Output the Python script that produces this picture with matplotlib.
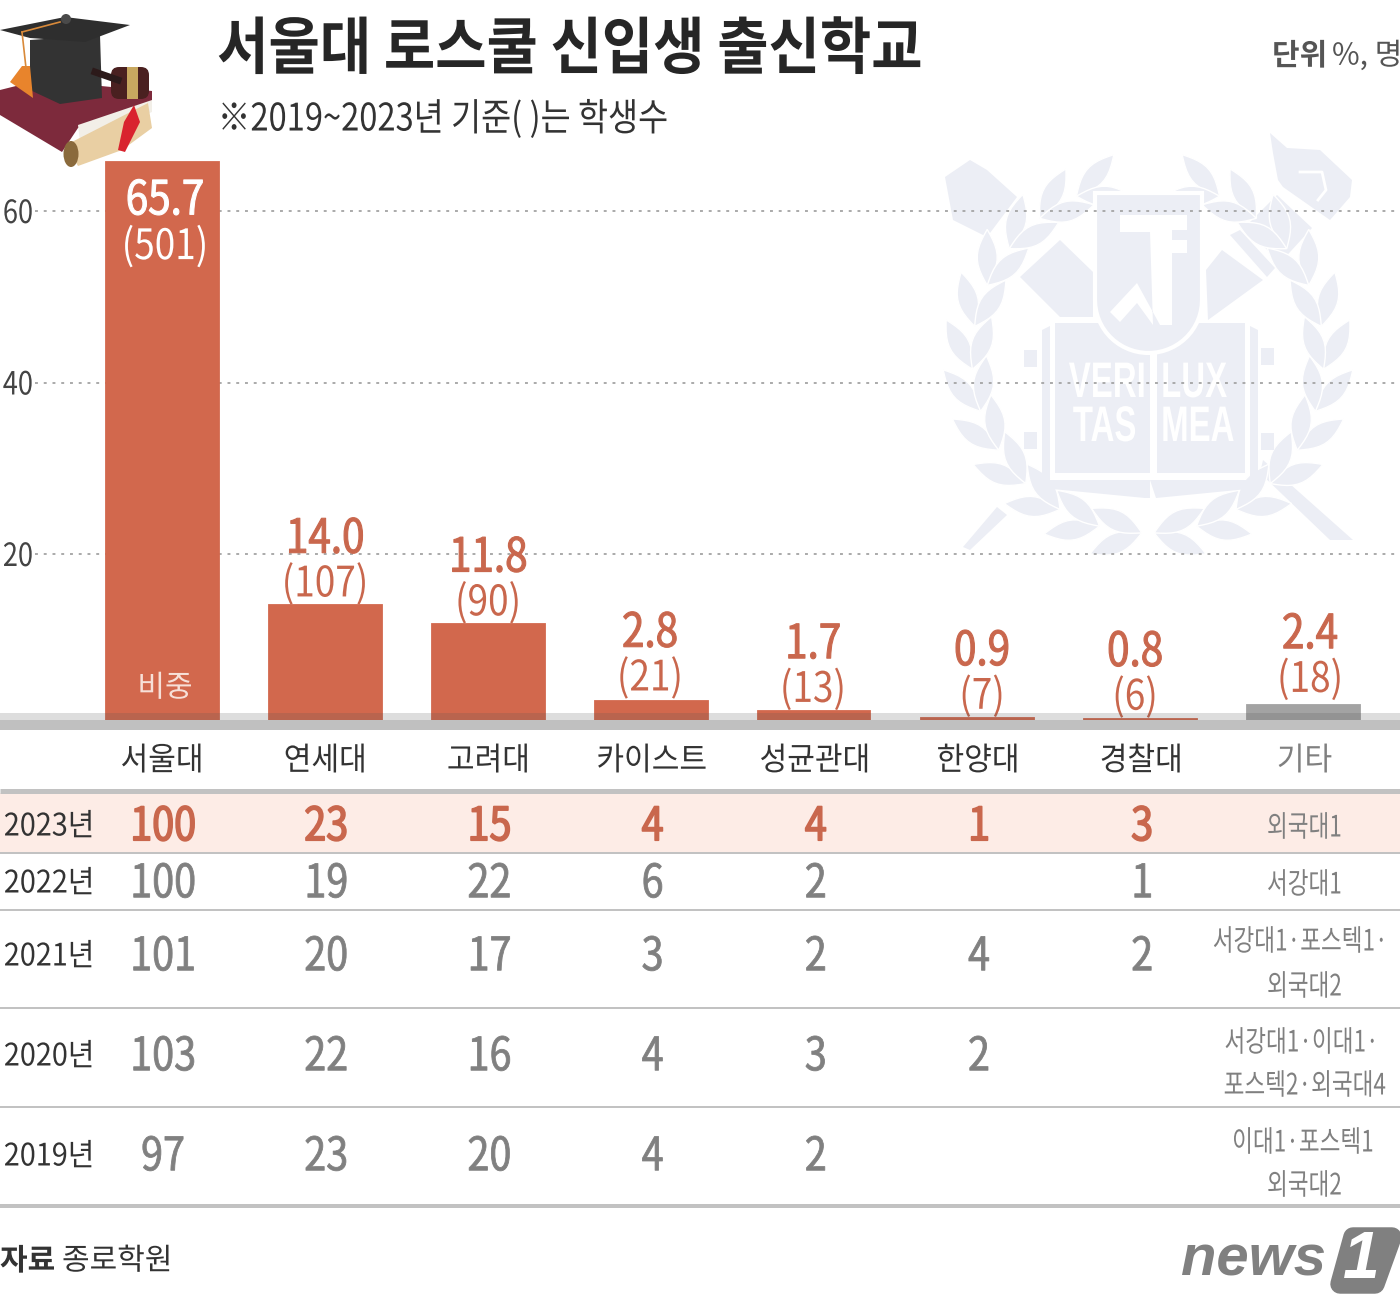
import numpy as np
import matplotlib
matplotlib.use('Agg')
import matplotlib.pyplot as plt
from matplotlib.patches import Polygon, Ellipse, Rectangle, FancyBboxPatch, Circle
from matplotlib.patheffects import AbstractPathEffect
from matplotlib.transforms import Affine2D

plt.rcParams['font.family'] = ['Noto Sans CJK KR', 'DejaVu Sans']

schools = ['서울대', '연세대', '고려대', '카이스트', '성균관대', '한양대', '경찰대', '기타']
shares = [65.7, 14.0, 11.8, 2.8, 1.7, 0.9, 0.8, 2.4]
students = [501, 107, 90, 21, 13, 7, 6, 18]
yticks = [20, 40, 60]
years = ['2023년', '2022년', '2021년', '2020년', '2019년']
rows = [
    ['100', '23', '15', '4', '4', '1', '3'],
    ['100', '19', '22', '6', '2', '', '1'],
    ['101', '20', '17', '3', '2', '4', '2'],
    ['103', '22', '16', '4', '3', '2', ''],
    ['97', '23', '20', '4', '2', '', ''],
]
others = [['외국대1'], ['서강대1'], ['서강대1·포스텍1·', '외국대2'],
          ['서강대1·이대1·', '포스텍2·외국대4'], ['이대1·포스텍1', '외국대2']]

W, H = 1400, 1303
ORANGE = '#d2684d'
TEXT_OR = '#c9674d'
GRAY = '#808080'
DARK = '#333333'
LINE = '#c2c2c2'
MARK = '#eceef5'
px = 0.72  # pixels to points at dpi 100


class Squeeze(AbstractPathEffect):
    # the reference uses a condensed face, so narrow the glyph outlines
    def __init__(self, sx, anchor='center', stroke=0):
        super().__init__()
        self.sx, self.anchor, self.stroke = sx, anchor, stroke

    def draw_path(self, renderer, gc, tpath, affine, rgbFace=None):
        ext = tpath.get_extents(affine)
        x0 = {'left': ext.x0, 'right': ext.x1, 'center': (ext.x0 + ext.x1) / 2}[self.anchor]
        aff = affine + Affine2D().translate(-x0, 0).scale(self.sx, 1).translate(x0, 0)
        gc0 = renderer.new_gc()
        gc0.copy_properties(gc)
        if self.stroke:
            gc0.set_foreground(rgbFace)
            gc0.set_linewidth(self.stroke)
        renderer.draw_path(gc0, tpath, aff, rgbFace)
        gc0.restore()


fig = plt.figure(figsize=(W / 100, H / 100), dpi=100, facecolor='white')

# background layer in pixel coords, emblem and table
bg = fig.add_axes([0, 0, 1, 1])
bg.set_xlim(0, W)
bg.set_ylim(H, 0)
bg.axis('off')


def shape(pts):
    bg.add_patch(Polygon(pts, color=MARK, lw=0))


# crossed pen and torch
shape([(945, 177), (970, 160), (987, 170), (1017, 197), (987, 237), (953, 220)])
shape([(1020, 277), (1060, 240), (1093, 272), (1093, 317), (1060, 317)])
shape([(1263, 460), (1353, 540), (1330, 540), (1260, 473)])
shape([(997, 507), (1007, 515), (970, 550), (963, 547)])
shape([(1245, 227), (1277, 195), (1312, 228), (1280, 263)])
shape([(1230, 235), (1240, 230), (1275, 268), (1267, 277)])
shape([(1222, 250), (1263, 280), (1208, 320), (1206, 270)])
shape([(1270, 133), (1287, 148), (1320, 150), (1352, 180), (1350, 197), (1330, 220), (1283, 187), (1278, 180), (1273, 153)])
bg.plot([1300, 1322, 1326, 1318], [172, 172, 190, 200], color='white', lw=2)

# laurel ring, pairs of leaves running up both sides
cx, cy, r0 = 1148, 357, 176
for side in [-1, 1]:
    for a in np.arange(88, -78, -14):
        for tilt in [24, -24]:
            base = np.radians(a)
            th = np.radians(a - 90 + tilt)
            s = np.linspace(0, 1, 12)
            along = 56 * s
            across = 10 * np.sin(np.pi * s)
            ux, uy = np.cos(th), np.sin(th)
            bx = r0 * np.cos(base)
            by = r0 * np.sin(base)
            x1 = bx + along * ux - across * uy
            y1 = by + along * uy + across * ux
            x2 = bx + along * ux + across * uy
            y2 = by + along * uy - across * ux
            lx = np.r_[x1, x2[::-1]] * side + cx
            ly = np.r_[y1, y2[::-1]] + cy
            bg.add_patch(Polygon(np.c_[lx, ly], facecolor=MARK, edgecolor='white', lw=1))

# book
shape([(1042, 330), (1050, 326), (1050, 480), (1150, 480), (1150, 498), (1145, 498), (1042, 488)])
shape([(1258, 330), (1250, 326), (1250, 480), (1150, 480), (1156, 498), (1258, 488)])
shape([(1055, 323), (1150, 323), (1150, 473), (1055, 473)])
shape([(1157, 323), (1245, 323), (1245, 473), (1157, 473)])
for sq in [(1024, 350), (1261, 348), (1024, 432), (1261, 433)]:
    bg.add_patch(Rectangle(sq, 13, 17, color=MARK, lw=0))
# shield with the monogram cut out
outline = [(1095, 193), (1202, 193), (1202, 300)] + \
          [(1148.5 + 53.5 * np.cos(a), 300 + 53 * np.sin(a)) for a in np.linspace(0, np.pi, 30)] + [(1095, 300)]
bg.add_patch(Polygon(outline, facecolor=MARK, edgecolor='white', lw=3))
bg.add_patch(Polygon([(1120, 215), (1187, 215), (1187, 230), (1172, 230), (1172, 240), (1187, 240), (1187, 253),
                      (1172, 253), (1172, 325), (1160, 325), (1137, 283), (1110, 312), (1120, 322), (1137, 303),
                      (1153, 325), (1150, 232), (1120, 232)], color='white', lw=0))
for word, x, y, ha in [('VERI', 1147, 384, 'right'), ('LUX', 1160, 384, 'left'),
                       ('TAS', 1137, 428, 'right'), ('MEA', 1160, 428, 'left')]:
    bg.text(x, y, word, fontsize=50 * px, color='white', ha=ha, va='center', weight='bold',
            family=['Liberation Sans', 'DejaVu Sans'], path_effects=[Squeeze(0.66, ha)])

# table rows
bg.add_patch(Rectangle((0, 793), W, 60, color='#fdece6', lw=0))
for y, lw in [(790.5, 5), (853, 2), (910, 2), (1007.5, 2), (1107, 2), (1206, 4)]:
    bg.plot([0, W], [y, y], color=LINE, lw=lw * px, solid_capstyle='butt')

# chart, zero sits inside the grey band
zero_px = 725.5
unit = 8.575
ax = fig.add_axes([0, 1 - zero_px / H, 1, zero_px / H])
ax.patch.set_alpha(0)
ax.set_xlim(-162 / 163, (W - 162) / 163)
ax.set_ylim(0, zero_px / unit)
ax.axis('off')

ax.hlines(yticks, -162 / 163 + 35 / 163, (W - 162) / 163, color='#aaaaaa', lw=1.4, linestyles=(0, (1.5, 3)), zorder=1)
for v in yticks:
    ax.annotate(str(v), (-162 / 163 + 18 / 163, v), xytext=(0, -3 * px), textcoords='offset points', fontsize=32 * px,
                color='#444444', ha='center', va='center', path_effects=[Squeeze(0.85)])

xs = np.arange(len(schools))
colors = [ORANGE] * 7 + ['#a3a3a3']
ax.bar(xs, shares, width=113 / 163, color=colors, edgecolor=colors, lw=1.3, zorder=2)

label_dx = [3, 0, 0, -1, -1, 5, -5, 7]
label_up = [0, 0, 0, 2, 0, 0, 0, 4]
for i, (v, n) in enumerate(zip(shares, students)):
    c = 'white' if i == 0 else TEXT_OR
    dy1, dy2 = (-36, -82) if i == 0 else (69, 24)
    ax.annotate(f'{v:.1f}', (i, v), xytext=(label_dx[i] * px, (dy1 - 3 + label_up[i]) * px), textcoords='offset points',
                ha='center', va='center', fontsize=47 * px, color=c, zorder=3, path_effects=[Squeeze(0.86, stroke=0.8)])
    ax.annotate(f'({n})', (i, v), xytext=(label_dx[i] * px, (dy2 - 3 + label_up[i]) * px), textcoords='offset points',
                ha='center', va='center', fontsize=42 * px, color=c, zorder=3, path_effects=[Squeeze(0.88)])

# overlay: band, text, picture
ov = fig.add_axes([0, 0, 1, 1])
ov.patch.set_alpha(0)
ov.set_xlim(0, W)
ov.set_ylim(H, 0)
ov.axis('off')

ov.add_patch(Rectangle((0, 713), W, 7, color='#555555', alpha=0.2, lw=0))
ov.add_patch(Rectangle((0, 720), W, 10, color='#c0c0c0', lw=0))


def t(x, y, s, size, color=DARK, ha='center', sx=1.0, stroke=0, **kw):
    return ov.text(x, y + 3, s, fontsize=size * px, color=color, ha=ha, va='center',
                   path_effects=[Squeeze(sx, ha, stroke)], **kw)


col_x = [162 + 163.2 * i for i in range(8)]
t(165, 685, '비중', 30, '#f7e0d8')
for i, s in enumerate(schools):
    t(col_x[i], 758, s, 32, DARK if i < 7 else GRAY, sx=0.94)

row_y = [824, 881, 954, 1054, 1154]
# two-line notes in the last column: centre line y, right end of each line
note_y = [[825], [882], [939, 984], [1040, 1083], [1140, 1183]]
note_right = [[None], [None], [1389, None], [1380, 1386], [1374, None]]
for k, y in enumerate(row_y):
    t(49, y, years[k], 31, sx=0.93)
    c = TEXT_OR if k == 0 else GRAY
    for i, s in enumerate(rows[k]):
        t(col_x[i] + 1, y, s, 46, c, sx=0.86, stroke=1.2 if k == 0 else 0.6)
    for line, ly, right in zip(others[k], note_y[k], note_right[k]):
        if right is None:
            t(col_x[7], ly, line, 29.5, GRAY, sx=0.765)
        else:
            t(right, ly, line, 29.5, GRAY, ha='right', sx=0.765)

# title
t(217, 47, '서울대 로스쿨 신입생 출신학교', 62, '#262626', ha='left', sx=0.9, weight='bold')
t(217, 117, '※2019~2023년 기준( )는 학생수', 38, DARK, ha='left', sx=0.86)
t(1272, 53, '단위', 30, '#555555', ha='left', weight='bold')
t(1332, 53, '%, 명', 30, '#555555', ha='left')
t(0, 1258, '자료', 30, DARK, ha='left', weight='bold')
t(62, 1258, '종로학원', 30, DARK, ha='left')

# cap, book, gavel and scroll
ov.add_patch(Polygon([(0, 90), (40, 80), (152, 91), (152, 105), (78, 128), (62, 152), (0, 115)], color='#7d2a3c', lw=0))
ov.add_patch(Polygon([(78, 125), (152, 100), (152, 112), (80, 142)], color='#f2efe8', lw=0))
ov.add_patch(Polygon([(66, 145), (148, 103), (152, 128), (122, 150), (78, 166)], color='#e9cfa3', lw=0))
ov.add_patch(Ellipse((71, 154), 15, 26, color='#8a6a3c', lw=0))
ov.add_patch(Polygon([(118, 150), (124, 122), (134, 105), (140, 122), (125, 152)], color='#d9232e', lw=0))
ov.add_patch(Polygon([(30, 40), (100, 35), (102, 98), (60, 104), (30, 90)], color='#333333', lw=0))
ov.add_patch(Polygon([(0, 30), (65, 17), (130, 25), (85, 42), (30, 38)], color='#2e2e2e', lw=0))
ov.add_patch(Circle((66, 19), 5, color='#4a4a4a', lw=0))
ov.plot([22, 60], [32, 22], color='#d98a3a', lw=1.2)
ov.plot([22, 26], [32, 68], color='#d98a3a', lw=1.2)
ov.add_patch(Polygon([(22, 66), (30, 66), (33, 98), (10, 82)], color='#e8842c', lw=0))
ov.plot([95, 118], [72, 80], color='#2c1a1a', lw=5)
ov.add_patch(FancyBboxPatch((111, 67), 38, 32, boxstyle='round,pad=0,rounding_size=8', color='#4a2020', lw=0))
ov.add_patch(Rectangle((127, 67), 11, 32, color='#c8a860', lw=0))

# logo
ov.text(1253, 1261, 'news', fontsize=58 * px, color=GRAY, ha='center', va='center', weight='bold', style='italic',
        family=['Liberation Sans', 'DejaVu Sans'])
ov.add_patch(Polygon([(1340, 1284), (1353, 1237), (1392, 1237), (1375, 1284)], facecolor=GRAY, edgecolor=GRAY,
                     lw=14, joinstyle='round'))
ov.text(1361, 1261, '1', fontsize=66 * px, color='white', ha='center', va='center', weight='bold', style='italic',
        family=['Liberation Sans', 'DejaVu Sans'])

fig.savefig('out.png', dpi=100)
